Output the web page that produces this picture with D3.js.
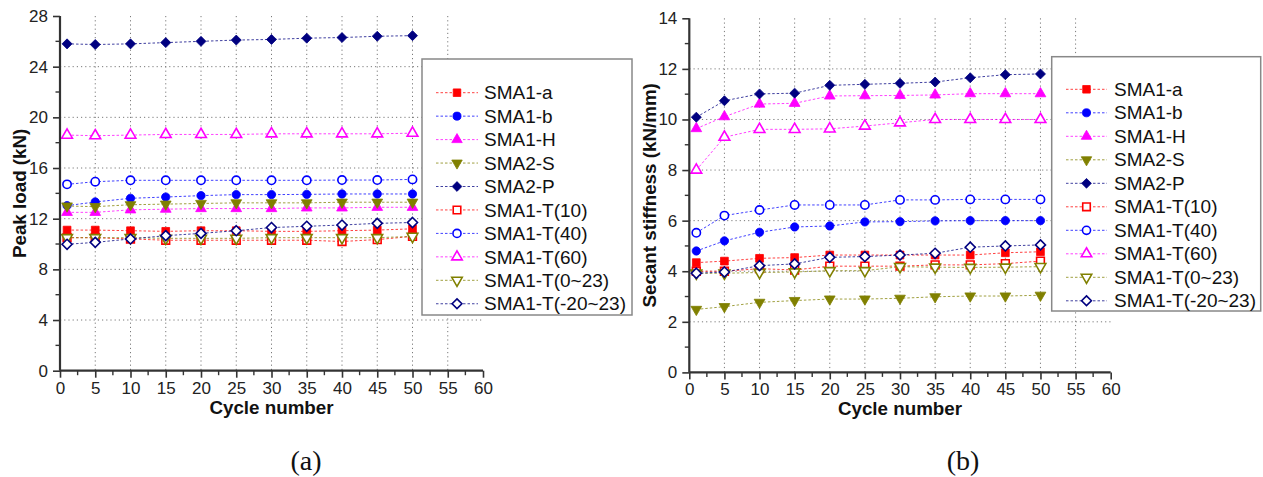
<!DOCTYPE html>
<html><head><meta charset="utf-8">
<script src="https://cdn.jsdelivr.net/npm/d3@7"></script>
<style>body{margin:0;background:#fff}svg{display:block}</style>
</head><body>
<svg id="c" width="1263" height="477"></svg>
<script>
const cycles = [1,5,10,15,20,25,30,35,40,45,50];
const seriesNames = ["SMA1-a","SMA1-b","SMA1-H","SMA2-S","SMA2-P","SMA1-T(10)","SMA1-T(40)","SMA1-T(60)","SMA1-T(0~23)","SMA1-T(-20~23)"];
const xTicks = [0,5,10,15,20,25,30,35,40,45,50,55,60];
const loadTicks = [0,4,8,12,16,20,24,28];
const stiffTicks = [0,2,4,6,8,10,12,14];

// Peak load (kN)
const load_SMA1a   = [11.1,11.1,11.05,11.0,11.05,11.05,11.0,11.0,11.05,11.1,11.2];
const load_SMA1b   = [13.03,13.32,13.61,13.71,13.82,13.9,13.9,13.92,13.95,13.95,13.95];
const load_SMA1H   = [12.5,12.5,12.7,12.75,12.8,12.8,12.8,12.85,12.85,12.9,12.9];
const load_SMA2S   = [13.0,12.95,13.1,13.15,13.2,13.25,13.25,13.25,13.3,13.3,13.3];
const load_SMA2P   = [25.8,25.75,25.8,25.9,26.0,26.1,26.15,26.25,26.3,26.4,26.45];
const load_T10     = [10.5,10.5,10.4,10.3,10.3,10.3,10.3,10.3,10.2,10.35,10.6];
const load_T40     = [14.71,14.92,15.03,15.03,15.03,15.03,15.03,15.03,15.05,15.05,15.1];
const load_T60     = [18.6,18.55,18.6,18.65,18.65,18.65,18.7,18.7,18.7,18.7,18.75];
const load_T0_23   = [10.5,10.5,10.5,10.45,10.45,10.45,10.5,10.5,10.5,10.5,10.6];
const load_Tm20_23 = [9.98,10.13,10.4,10.66,10.84,11.05,11.3,11.4,11.5,11.63,11.7];

// Secant stiffness (kN/mm)
const stiff_SMA1a   = [4.34,4.4,4.51,4.54,4.64,4.64,4.64,4.64,4.64,4.73,4.77];
const stiff_SMA1b   = [4.8,5.2,5.54,5.75,5.79,5.95,5.96,5.99,6.0,6.0,6.0];
const stiff_SMA1H   = [9.64,10.11,10.61,10.64,10.93,10.94,10.95,10.97,11.02,11.02,11.02];
const stiff_SMA2S   = [2.49,2.6,2.77,2.84,2.9,2.9,2.93,2.99,3.02,3.02,3.05];
const stiff_SMA2P   = [10.09,10.74,11.01,11.04,11.35,11.39,11.43,11.48,11.65,11.77,11.8];
const stiff_T10     = [4.0,4.0,4.1,4.05,4.2,4.2,4.2,4.25,4.25,4.3,4.4];
const stiff_T40     = [5.52,6.2,6.42,6.62,6.62,6.62,6.82,6.82,6.84,6.84,6.84];
const stiff_T60     = [8.0,9.3,9.61,9.61,9.63,9.74,9.87,10.0,10.0,10.0,10.0];
const stiff_T0_23   = [3.92,3.92,3.95,3.97,4.02,4.02,4.18,4.16,4.15,4.16,4.18];
const stiff_Tm20_23 = [3.92,3.97,4.22,4.29,4.55,4.58,4.64,4.71,4.95,5.0,5.04];

const loadSeries = [load_SMA1a,load_SMA1b,load_SMA1H,load_SMA2S,load_SMA2P,load_T10,load_T40,load_T60,load_T0_23,load_Tm20_23];
const stiffSeries = [stiff_SMA1a,stiff_SMA1b,stiff_SMA1H,stiff_SMA2S,stiff_SMA2P,stiff_T10,stiff_T40,stiff_T60,stiff_T0_23,stiff_Tm20_23];

// style per series
const colors = ["#ff0000","#0000ff","#ff00ff","#808000","#000080","#ff0000","#0000ff","#ff00ff","#808000","#000080"];
const shapes = ["square","circle","triangle","down","diamond","square","circle","triangle","down","diamond"];
const filled = [true,true,true,true,true,false,false,false,false,false];

const svg = d3.select("#c");
const FONT = "'Liberation Sans', Arial, sans-serif";

function symbolPath(shape, scale){
  const s = scale || 1;
  if (shape==="square") return d3.symbol(d3.symbolSquare, 60*s)();
  if (shape==="circle") return d3.symbol(d3.symbolCircle, 54*s)();
  if (shape==="triangle") return d3.symbol(d3.symbolTriangle, 50*s)();
  if (shape==="down") return d3.symbol(d3.symbolTriangle, 50*s)();
  return d3.symbol(d3.symbolDiamond2, 64*s)();
}
function drawMarker(g, shape, i, x, y, scale){
  const p = g.append("path").attr("d", symbolPath(shape, scale))
    .attr("transform", `translate(${x},${y})` + (shape==="down" ? " rotate(180)" : ""));
  if (filled[i]) p.attr("fill", colors[i]).attr("stroke", colors[i]).attr("stroke-width", 0.8);
  else p.attr("fill", "#fff").attr("stroke", colors[i]).attr("stroke-width", 1.6);
}

function panel(opt){
  const x = d3.scaleLinear().domain([0,60]).range([opt.x0, opt.x1]);
  const y = d3.scaleLinear().domain([0, opt.yMax]).range([opt.y0, opt.y1]);
  const g = svg.append("g");

  // grid
  const grid = g.append("g").attr("stroke","#7a7a7a").attr("stroke-width",1).attr("stroke-dasharray","1.2,3");
  xTicks.filter(t=>t>0 && t<60).forEach(t=>{
    grid.append("line").attr("x1",x(t)).attr("x2",x(t)).attr("y1",y(opt.yMax)).attr("y2",y(0));
  });
  opt.yTicks.filter(t=>t>0 && t<opt.yMax).forEach(t=>{
    grid.append("line").attr("x1",x(0)).attr("x2",x(60)).attr("y1",y(t)).attr("y2",y(t));
  });

  // series
  const line = d3.line().x((d,k)=>x(cycles[k])).y(d=>y(d));
  opt.series.forEach((vals,i)=>{
    g.append("path").attr("d", line(vals)).attr("fill","none")
      .attr("stroke", colors[i]).attr("stroke-opacity",0.75).attr("stroke-width",1)
      .attr("stroke-dasharray","2.5,2");
  });
  opt.series.forEach((vals,i)=>{
    vals.forEach((v,k)=> drawMarker(g, shapes[i], i, x(cycles[k]), y(v), 1));
  });

  // axes
  const xAxis = d3.axisBottom(x).tickValues(xTicks).tickSize(7).tickPadding(4).tickFormat(d3.format("d"));
  const yAxis = d3.axisLeft(y).tickValues(opt.yTicks).tickSize(7).tickPadding(5).tickFormat(d3.format("d"));
  const minorX = d3.range(2.5, 60, 5);
  const minorY = opt.minorY;
  const ax = g.append("g").attr("transform",`translate(0,${opt.y0})`).call(xAxis);
  const ay = g.append("g").attr("transform",`translate(${opt.x0},0)`).call(yAxis);
  [ax, ay].forEach(a=>{
    a.select(".domain").attr("stroke","#333").attr("stroke-width",2.2);
    a.selectAll(".tick line").attr("stroke","#333").attr("stroke-width",1.6);
    a.selectAll("text").attr("font-family",FONT).attr("font-size","17px").attr("fill","#222");
  });
  ax.select(".domain").attr("d", `M${opt.x0},0H${opt.x1}`);
  ay.select(".domain").attr("d", `M0,${opt.y0}V${opt.y1}`);
  minorX.forEach(t=>{
    g.append("line").attr("x1",x(t)).attr("x2",x(t)).attr("y1",opt.y0).attr("y2",opt.y0+4.5)
      .attr("stroke","#333").attr("stroke-width",1.4);
  });
  minorY.forEach(t=>{
    g.append("line").attr("x1",opt.x0-4.5).attr("x2",opt.x0).attr("y1",y(t)).attr("y2",y(t))
      .attr("stroke","#333").attr("stroke-width",1.4);
  });

  // titles
  g.append("text").attr("x",(opt.x0+opt.x1)/2).attr("y",opt.y0+43)
    .attr("text-anchor","middle").attr("font-family",FONT).attr("font-weight","bold")
    .attr("font-size","18.8px").attr("fill","#111").text("Cycle number");
  g.append("text").attr("transform",`translate(${opt.yTitleX},${(opt.y0+opt.y1)/2}) rotate(-90)`)
    .attr("text-anchor","middle").attr("font-family",FONT).attr("font-weight","bold")
    .attr("font-size","18.8px").attr("fill","#111").text(opt.yTitle);

  // legend
  const L = opt.legend;
  const lg = g.append("g");
  lg.append("rect").attr("x",L.x).attr("y",L.y).attr("width",L.w).attr("height",L.h)
    .attr("fill","#fff").attr("stroke","#888").attr("stroke-width",1.5);
  seriesNames.forEach((name,i)=>{
    const yy = L.firstY + i*L.step;
    lg.append("line").attr("x1",L.lx0).attr("x2",L.lx1).attr("y1",yy).attr("y2",yy)
      .attr("stroke",colors[i]).attr("stroke-opacity",0.75).attr("stroke-width",1).attr("stroke-dasharray","2.5,2");
    drawMarker(lg, shapes[i], i, (L.lx0+L.lx1)/2, yy, 0.95);
    lg.append("text").attr("x",L.tx).attr("y",yy).attr("dy","0.35em")
      .attr("font-family",FONT).attr("font-size","19px").attr("fill","#111").text(name);
  });

  // caption
  svg.append("text").attr("x",opt.capX).attr("y",470).attr("text-anchor","middle")
    .attr("font-family","'Liberation Serif','Times New Roman',serif").attr("font-size","28px")
    .attr("fill","#111").text(opt.caption);
}

panel({x0:60, x1:483, y0:370.7, y1:16, yMax:28, yTicks:loadTicks, minorY:d3.range(2,28,4),
  series:loadSeries, yTitle:"Peak load (kN)", yTitleX:26,
  legend:{x:422,y:59,w:210,h:256,firstY:92.7,step:23.45,lx0:436,lx1:478,tx:484},
  capX:306, caption:"(a)"});
panel({x0:689.3, x1:1110.7, y0:372.4, y1:18.3, yMax:14, yTicks:stiffTicks, minorY:d3.range(1,14,2),
  series:stiffSeries, yTitle:"Secant stiffness (kN/mm)", yTitleX:656,
  legend:{x:1051.7,y:56.7,w:209,h:254.3,firstY:89.3,step:23.5,lx0:1066,lx1:1107,tx:1114},
  capX:963, caption:"(b)"});
</script>
</body></html>
